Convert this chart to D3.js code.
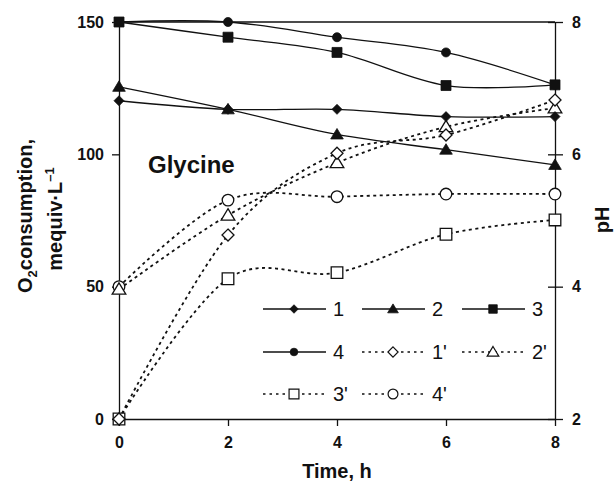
<!DOCTYPE html>
<html>
<head>
<meta charset="utf-8">
<script src="https://cdn.jsdelivr.net/npm/d3@7"></script>
<style>
  body { margin: 0; background: #fff; }
  svg { display: block; font-family: "Liberation Sans", Arial, sans-serif; }
</style>
</head>
<body>
<div id="chart"></div>
<script>
// time points, h
const hours = [0, 2, 4, 6, 8];

// pH (right axis), solid lines
const ph1 = [6.81, 6.68, 6.68, 6.57, 6.57];
const ph2 = [7.02, 6.68, 6.30, 6.07, 5.84];
const ph3 = [8.0, 7.77, 7.54, 7.04, 7.05];
const ph4 = [8.0, 8.0, 7.77, 7.54, 7.05];

// O2 consumption (left axis), dotted lines
const o2_1 = [0, 69.5, 100.4, 107.3, 120.5];
const o2_2 = [49, 77, 96.8, 110.4, 117.5];
const o2_3 = [0, 53, 55.3, 69.8, 75.2];
const o2_4 = [50, 82.7, 84, 85, 85];

const leftTicks = [0, 50, 100, 150];
const rightTicks = [2, 4, 6, 8];
const timeTicks = [0, 2, 4, 6, 8];

const W = 614, H = 483;
const svg = d3.select("#chart").append("svg")
    .attr("width", W)
    .attr("height", H);

const x = d3.scaleLinear().domain([0, 8]).range([119, 555]);
const yL = d3.scaleLinear().domain([0, 150]).range([419, 22]);
const yR = d3.scaleLinear().domain([2, 8]).range([419, 22]);

const ink = "#111";

// marker shapes
function markerPath(shape, r) {
    if (shape === "diamond") return `M0,${-r}L${r},0L0,${r}L${-r},0Z`;
    if (shape === "triangle") return `M0,${-r}L${r * 1.05},${r * 0.75}L${-r * 1.05},${r * 0.75}Z`;
    if (shape === "square") return `M${-r},${-r}H${r}V${r}H${-r}Z`;
    return d3.arc()({ innerRadius: 0, outerRadius: r, startAngle: 0, endAngle: 2 * Math.PI });
}

const series = [
    { name: "1", vals: ph1, axis: yR, shape: "diamond", filled: true, r: 5 },
    { name: "2", vals: ph2, axis: yR, shape: "triangle", filled: true, r: 6 },
    { name: "3", vals: ph3, axis: yR, shape: "square", filled: true, r: 5 },
    { name: "4", vals: ph4, axis: yR, shape: "circle", filled: true, r: 4.5 },
    { name: "1'", vals: o2_1, axis: yL, shape: "diamond", filled: false, r: 6 },
    { name: "2'", vals: o2_2, axis: yL, shape: "triangle", filled: false, r: 6.5 },
    { name: "3'", vals: o2_3, axis: yL, shape: "square", filled: false, r: 5.8 },
    { name: "4'", vals: o2_4, axis: yL, shape: "circle", filled: false, r: 5.8 }
];

// frame top line
svg.append("line")
    .attr("x1", x(0)).attr("x2", x(8))
    .attr("y1", yL(150)).attr("y2", yL(150))
    .attr("stroke", ink).attr("stroke-width", 1.3);

// axes
const axisL = svg.append("g")
    .attr("transform", `translate(${x(0)},0)`)
    .call(d3.axisLeft(yL).tickValues(leftTicks).tickSize(7).tickSizeOuter(0).tickPadding(8));

const axisR = svg.append("g")
    .attr("transform", `translate(${x(8)},0)`)
    .call(d3.axisRight(yR).tickValues(rightTicks).tickFormat(d3.format("d"))
        .tickSize(8).tickSizeOuter(0).tickPadding(9));
axisR.selectAll(".tick").append("line")
    .attr("x2", -7).attr("stroke", ink);

const axisB = svg.append("g")
    .attr("transform", `translate(0,${yL(0)})`)
    .call(d3.axisBottom(x).tickValues(timeTicks).tickFormat(d3.format("d"))
        .tickSize(7).tickSizeOuter(0).tickPadding(11));

[axisL, axisR, axisB].forEach(g => {
    g.select(".domain").attr("stroke", ink).attr("stroke-width", 1.3);
    g.selectAll(".tick line").attr("stroke", ink).attr("stroke-width", 1.3);
    g.selectAll(".tick text")
        .attr("fill", ink)
        .style("font-size", "16px")
        .style("font-weight", "bold")
        .style("font-family", "'Liberation Sans', Arial, sans-serif");
});

// lines
const curve = d3.curveCardinal.tension(0);
const plot = svg.append("g");

series.slice().reverse().forEach(s => {
    const line = d3.line()
        .x((d, i) => x(hours[i]))
        .y(d => s.axis(d))
        .curve(curve);
    plot.append("path")
        .datum(s.vals)
        .attr("d", line)
        .attr("fill", "none")
        .attr("stroke", ink)
        .attr("stroke-width", s.filled ? 1.3 : 1.8)
        .attr("stroke-dasharray", s.filled ? null : "3,3.5");
});

series.slice().reverse().forEach(s => {
    plot.append("g")
        .selectAll("path")
        .data(s.vals)
        .join("path")
        .attr("transform", (d, i) => `translate(${x(hours[i])},${s.axis(d)})`)
        .attr("d", markerPath(s.shape, s.r))
        .attr("fill", s.filled ? ink : "#fff")
        .attr("stroke", ink)
        .attr("stroke-width", s.filled ? 0.8 : 1.3);
});

// legend
const legendCols = [263, 362, 462];
const legendRows = [309, 352, 394];
const legend = svg.append("g");
series.forEach((s, i) => {
    const lx = legendCols[i % 3], ly = legendRows[Math.floor(i / 3)];
    const g = legend.append("g").attr("transform", `translate(${lx},${ly})`);
    g.append("line")
        .attr("x1", 0).attr("x2", 63)
        .attr("stroke", ink)
        .attr("stroke-width", s.filled ? 1.3 : 1.5)
        .attr("stroke-dasharray", s.filled ? null : "2.5,4");
    g.append("path")
        .attr("transform", "translate(31,0)")
        .attr("d", markerPath(s.shape, s.r * 0.85))
        .attr("fill", s.filled ? ink : "#fff")
        .attr("stroke", ink)
        .attr("stroke-width", s.filled ? 0.8 : 1.2);
    g.append("text")
        .attr("x", 70)
        .attr("y", 7)
        .attr("fill", ink)
        .style("font-size", "20px")
        .text(s.name);
});

// Glycine label
svg.append("text")
    .attr("x", 148).attr("y", 173)
    .attr("fill", ink)
    .style("font-size", "24px")
    .style("font-weight", "bold")
    .text("Glycine");

// x axis title
svg.append("text")
    .attr("x", 337).attr("y", 478)
    .attr("text-anchor", "middle")
    .attr("fill", ink)
    .style("font-size", "20px")
    .style("font-weight", "bold")
    .text("Time, h");

// left axis title, two lines
const t1 = svg.append("text")
    .attr("transform", "translate(32,216) rotate(-90)")
    .attr("text-anchor", "middle")
    .attr("fill", ink)
    .style("font-size", "20px")
    .style("font-weight", "bold");
t1.append("tspan").text("O");
t1.append("tspan").attr("dy", 5).style("font-size", "13px").text("2");
t1.append("tspan").attr("dy", -5).text("consumption,");

const t2 = svg.append("text")
    .attr("transform", "translate(62,219) rotate(-90)")
    .attr("text-anchor", "middle")
    .attr("fill", ink)
    .style("font-size", "20px")
    .style("font-weight", "bold");
t2.append("tspan").text("mequiv·L");
t2.append("tspan").attr("dy", -8).style("font-size", "13px").text("–1");

// right axis title
svg.append("text")
    .attr("transform", "translate(609,220) rotate(-90)")
    .attr("text-anchor", "middle")
    .attr("fill", ink)
    .style("font-size", "20px")
    .style("font-weight", "bold")
    .text("pH");
</script>
</body>
</html>
